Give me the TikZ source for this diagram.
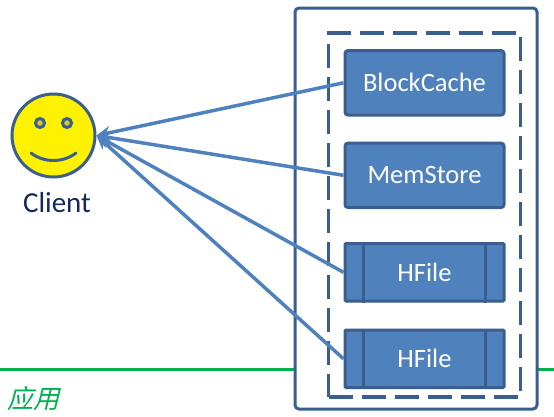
\documentclass[tikz,border=0pt]{standalone}
\usepackage{fontspec}
\setmainfont{Carlito}
\newfontfamily\cjkslant[FakeSlant=0.25]{Noto Sans CJK SC}
\usetikzlibrary{positioning,arrows.meta}
\definecolor{boxfill}{HTML}{4F81BD}
\definecolor{boxline}{HTML}{3A5F8F}
\definecolor{bandgreen}{HTML}{00B050}
\definecolor{clientink}{HTML}{14285A}
\begin{document}
\begin{tikzpicture}[
		x=1pt,y=-1pt,
		store/.style={draw=boxline,fill=boxfill,line width=3pt,rounded corners=3pt,minimum width=159pt,minimum height=64.5pt,inner sep=0pt,text=white,font=\fontsize{26.5}{28}\selectfont},
		hfile/.style={draw=boxline,fill=boxfill,line width=3pt,rounded corners=1pt,minimum width=159pt,minimum height=57.5pt,inner sep=0pt,text=white,font=\fontsize{26.5}{28}\selectfont},
		link/.style={draw=boxfill,line width=3.5pt,-{Stealth[length=14pt,width=13pt]}}
	]
	\useasboundingbox (0,0) rectangle (554,416);
	\draw[bandgreen,line width=3pt] (0,369) -- (554,369);
	\node[anchor=base west,text=bandgreen,inner sep=0pt,font=\fontsize{26}{28}\selectfont\cjkslant] (band) at (7,408.5) {应用};
	\node[draw=boxline,fill=white,line width=3pt,rounded corners=4pt,minimum width=242pt,minimum height=401pt,inner sep=0pt] (server) at (416,208.5) {};
	\node[draw=boxline,line width=3.5pt,dash pattern=on 24pt off 9pt,minimum width=192pt,minimum height=364pt,inner sep=0pt] (region) at (424.7,215) {};
	\node[store] (cache) at (424.5,82.8) {BlockCache};
	\node[store,below=25pt of cache] (mem) {MemStore};
	\node[hfile,below=33pt of mem] (fileA) {HFile};
	\node[hfile,below=26pt of fileA] (fileB) {HFile};
	\foreach \f in {fileA,fileB} {
		\draw[boxline,line width=3pt] ([xshift=20pt]\f.north west) -- ([xshift=20pt]\f.south west);
		\draw[boxline,line width=3pt] ([xshift=-20pt]\f.north east) -- ([xshift=-20pt]\f.south east);
	}
	\node[circle,draw=boxline,fill=yellow,line width=3pt,minimum size=83pt,inner sep=0pt] (client) at (53.5,135.5) {};
	\node[text=clientink,font=\fontsize{29}{31}\selectfont,below=10pt of client,xshift=3.5pt] (clientlabel) {Client};
	\node[circle,draw=boxline,fill=yellow!80!black,line width=3pt,minimum size=9pt,inner sep=0pt] (eyeL) at (40,123) {};
	\node[circle,draw=boxline,fill=yellow!80!black,line width=3pt,minimum size=9pt,inner sep=0pt] (eyeR) at (67,123) {};
	\draw[boxline,line width=3pt,line cap=round] (31,153) .. controls (44,163) and (63,163) .. (76,153);
	\foreach \b in {cache,mem,fileA,fileB}
		\draw[link] (\b.west) -- (client.east);
\end{tikzpicture}
\end{document}
